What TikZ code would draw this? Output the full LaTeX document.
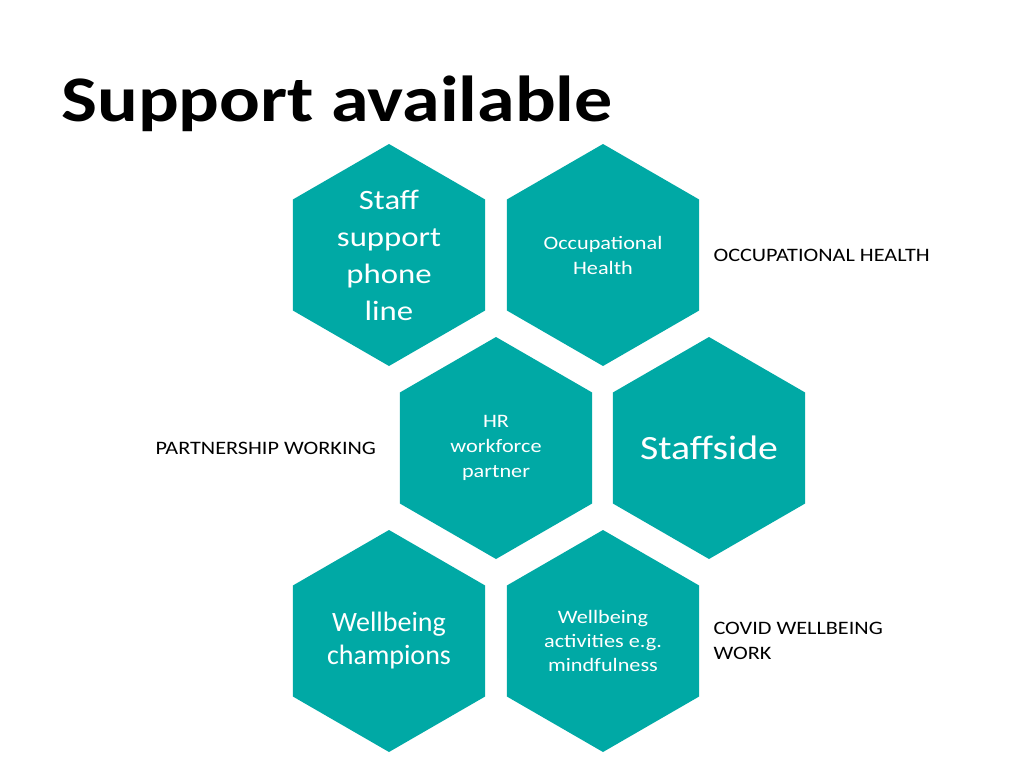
\documentclass[tikz,border=0pt]{standalone}
\usepackage{fontspec}
\setmainfont{Carlito}
\newfontfamily\wide{Carlito}[FakeStretch=1.17]
\usetikzlibrary{shapes.geometric}
\definecolor{teal1}{HTML}{00A9A5}
\begin{document}
\begin{tikzpicture}[x=1pt,y=-1pt,
  hex/.style={regular polygon,regular polygon sides=6,shape border rotate=30,minimum size=222pt,inner sep=0pt,fill=teal1,draw=none},
  htxt/.style={text=white,align=center,font=#1},
  lab/.style={anchor=west,align=left,font=\wide\fontsize{19}{25}\selectfont}]
\useasboundingbox (0,0) rectangle (1024,768);
\fill[white] (0,0) rectangle (1024,768);
\node[anchor=base west,font=\wide\bfseries\fontsize{65}{70}\selectfont,inner sep=0] (title) at (61,121) {Support available};
\node[hex] (h1) at (389,255) {};
\node[hex] (h2) at (603,255) {};
\node[hex] (h3) at (496,448) {};
\node[hex] (h4) at (709,448) {};
\node[hex] (h5) at (389,641) {};
\node[hex] (h6) at (603,641) {};
\node[htxt=\wide\fontsize{28}{37}\selectfont] (t1) at (389,255) {Staff\\support\\phone\\line};
\node[htxt=\wide\fontsize{19}{25}\selectfont] (t2) at (603,255) {Occupational\\Health};
\node[htxt=\wide\fontsize{19}{25}\selectfont] (t3) at (496,448) {HR\\workforce\\partner};
\node[htxt=\wide\fontsize{34}{40}\selectfont] (t4) at (709,448) {Staffside};
\node[htxt=\fontsize{28}{33}\selectfont] (t5) at (389,641) {Wellbeing\\champions};
\node[htxt=\wide\fontsize{19}{24}\selectfont] (t6) at (603,641) {Wellbeing\\activities e.g.\\mindfulness};
\node[lab] (l1) at (710,255) {OCCUPATIONAL HEALTH};
\node[lab] (l2) at (152,448) {PARTNERSHIP WORKING};
\node[lab] (l3) at (710,641) {COVID WELLBEING\\WORK};
\end{tikzpicture}
\end{document}
